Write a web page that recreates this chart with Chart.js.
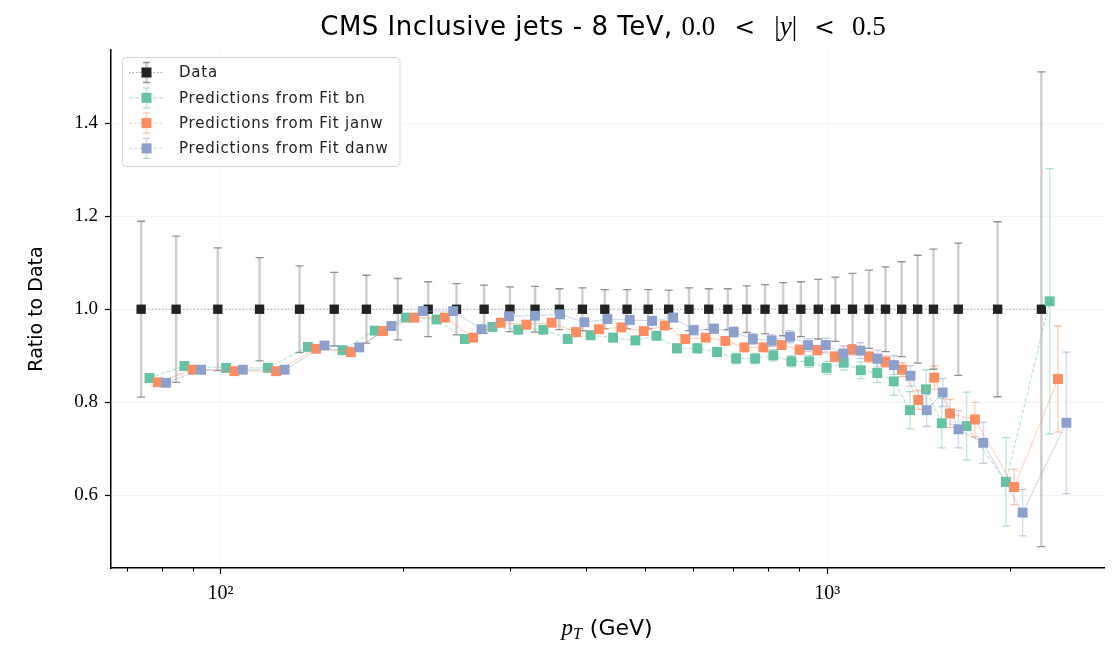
<!DOCTYPE html>
<html>
<head>
<meta charset="utf-8">
<title>CMS Inclusive jets - 8 TeV</title>
<script src="https://cdn.jsdelivr.net/npm/chart.js@4.4.1/dist/chart.umd.min.js"></script>
<style>
  html, body { margin: 0; padding: 0; background: #fff; }
  #wrap { position: relative; width: 1115px; height: 650px; }
</style>
</head>
<body>
<div id="wrap"><canvas id="ratioChart" width="1115" height="650"></canvas></div>
<script>
// === DATA ===
const pT = [74, 84.5, 99, 116, 135, 154, 174, 196, 220, 245, 272, 300, 330, 362, 395, 430, 468, 507, 548, 592,
  638, 686, 737, 790, 846, 905, 967, 1032, 1101, 1172, 1248, 1327, 1410, 1497, 1645, 1910, 2255];

const dataRatio = [1.0, 1.0, 1.0, 1.0, 1.0, 1.0, 1.0, 1.0, 1.0, 1.0, 1.0, 1.0, 1.0, 1.0, 1.0, 1.0, 1.0, 1.0, 1.0, 1.0,
  1.0, 1.0, 1.0, 1.0, 1.0, 1.0, 1.0, 1.0, 1.0, 1.0, 1.0, 1.0, 1.0, 1.0, 1.0, 1.0, 1.0];
const dataErr = [0.189, 0.157, 0.132, 0.111, 0.093, 0.079, 0.073, 0.066, 0.059, 0.055, 0.052, 0.048, 0.049, 0.044, 0.046, 0.042, 0.042, 0.042, 0.041, 0.046,
  0.044, 0.044, 0.050, 0.053, 0.057, 0.059, 0.064, 0.069, 0.077, 0.084, 0.091, 0.102, 0.116, 0.129, 0.142, 0.188, 0.510];

const fitBn = [0.852, 0.878, 0.874, 0.874, 0.919, 0.912, 0.954, 0.982, 0.978, 0.936, 0.962, 0.956, 0.956, 0.936, 0.944, 0.939, 0.933, 0.943, 0.916, 0.916,
  0.908, 0.894, 0.894, 0.901, 0.888, 0.888, 0.874, 0.885, 0.869, 0.863, 0.845, 0.783, 0.828, 0.755, 0.749, 0.629, 1.017];
const fitBnErr = [0.008, 0.007, 0.007, 0.007, 0.007, 0.007, 0.007, 0.007, 0.007, 0.007, 0.008, 0.008, 0.008, 0.008, 0.008, 0.009, 0.009, 0.009, 0.010, 0.010,
  0.010, 0.011, 0.011, 0.012, 0.012, 0.013, 0.014, 0.016, 0.018, 0.020, 0.030, 0.040, 0.042, 0.053, 0.073, 0.095, 0.285];

const fitJanw = [0.843, 0.870, 0.867, 0.867, 0.915, 0.908, 0.953, 0.982, 0.982, 0.939, 0.971, 0.967, 0.971, 0.951, 0.957, 0.961, 0.953, 0.965, 0.936, 0.939,
  0.932, 0.918, 0.918, 0.923, 0.913, 0.912, 0.898, 0.913, 0.898, 0.887, 0.870, 0.805, 0.853, 0.776, 0.763, 0.618, 0.850];
const fitJanwErr = [0.005, 0.005, 0.005, 0.005, 0.005, 0.005, 0.005, 0.005, 0.005, 0.005, 0.006, 0.006, 0.006, 0.006, 0.006, 0.006, 0.007, 0.007, 0.007, 0.008,
  0.008, 0.008, 0.009, 0.009, 0.010, 0.010, 0.011, 0.011, 0.012, 0.012, 0.015, 0.020, 0.025, 0.030, 0.037, 0.038, 0.114];

const fitDanw = [0.842, 0.870, 0.870, 0.870, 0.922, 0.918, 0.964, 0.996, 0.996, 0.957, 0.985, 0.986, 0.989, 0.972, 0.979, 0.977, 0.975, 0.982, 0.955, 0.958,
  0.951, 0.936, 0.933, 0.941, 0.923, 0.923, 0.905, 0.911, 0.894, 0.880, 0.857, 0.783, 0.821, 0.742, 0.713, 0.563, 0.756];
const fitDanwErr = [0.006, 0.006, 0.006, 0.006, 0.006, 0.006, 0.006, 0.006, 0.006, 0.007, 0.007, 0.007, 0.007, 0.008, 0.008, 0.008, 0.009, 0.009, 0.010, 0.010,
  0.011, 0.012, 0.012, 0.013, 0.014, 0.015, 0.016, 0.017, 0.018, 0.020, 0.022, 0.035, 0.030, 0.040, 0.044, 0.050, 0.152];

const seriesLabels = ["Data", "Predictions from Fit bn", "Predictions from Fit janw", "Predictions from Fit danw"];
const xTicks = [100, 1000];
const xTickLabels = ["10²", "10³"];
const xMinorTicks = [70, 80, 90, 200, 300, 400, 500, 600, 700, 800, 900, 2000];
const yTicks = [0.6, 0.8, 1.0, 1.2, 1.4];

// small multiplicative dodge so the four series sit side by side on the log axis
const xShift = [1, 1.032, 1.065, 1.0995];

// === STYLE ===
const SANS = "'DejaVu Sans', sans-serif";
const SERIF = "'Liberation Serif', 'DejaVu Serif', serif";
const colors = ["#222222", "#66c2a5", "#fc8d62", "#8da0cb"];
const lineColors = ["rgba(140,140,140,0.8)", "rgba(102,194,165,0.55)", "rgba(252,141,98,0.45)", "rgba(141,160,203,0.45)"];
const errColors = ["rgba(190,190,190,0.75)", "rgba(102,194,165,0.35)", "rgba(252,141,98,0.35)", "rgba(141,160,203,0.35)"];
const capColors = ["rgba(120,120,120,0.8)", "rgba(102,194,165,0.5)", "rgba(252,141,98,0.5)", "rgba(141,160,203,0.5)"];
const lineDashes = [[1.5, 2], [4, 2], [], []];

function makeSeries(k, values, errs) {
  return {
    label: seriesLabels[k],
    data: pT.map((v, i) => ({ x: v * xShift[k], y: values[i] })),
    yErr: errs,
    errColor: errColors[k],
    capColor: capColors[k],
    errWidth: k === 0 ? 2.5 : 1.5,
    borderColor: lineColors[k],
    borderWidth: 1,
    borderDash: lineDashes[k],
    backgroundColor: colors[k],
    pointBackgroundColor: colors[k],
    pointBorderWidth: 0,
    pointStyle: "rect",
    pointRadius: k === 0 ? 6.6 : 7,
    pointHoverRadius: k === 0 ? 6.6 : 7,
    tension: 0,
    order: 3 - k
  };
}

// === ERROR BARS (drawn just before each dataset's own markers) ===
const errorBarPlugin = {
  id: "errorBars",
  beforeDatasetDraw(chart, args) {
    const ds = chart.data.datasets[args.index];
    if (!ds.yErr) return;
    const ctx = chart.ctx, xs = chart.scales.x, ys = chart.scales.y;
    ctx.save();
    ds.data.forEach((p, i) => {
      const e = ds.yErr[i];
      const px = xs.getPixelForValue(p.x);
      const top = ys.getPixelForValue(p.y + e);
      const bot = ys.getPixelForValue(p.y - e);
      ctx.strokeStyle = ds.errColor;
      ctx.lineWidth = ds.errWidth;
      ctx.beginPath();
      ctx.moveTo(px, top);
      ctx.lineTo(px, bot);
      ctx.stroke();
      ctx.strokeStyle = ds.capColor;
      ctx.lineWidth = 1.3;
      ctx.beginPath();
      ctx.moveTo(px - 4, top); ctx.lineTo(px + 4, top);
      ctx.moveTo(px - 4, bot); ctx.lineTo(px + 4, bot);
      ctx.stroke();
    });
    ctx.restore();
  }
};

// === MINOR TICKS, TITLE, X LABEL, LEGEND ===
const decorPlugin = {
  id: "decor",
  afterDraw(chart) {
    const ctx = chart.ctx, xs = chart.scales.x, area = chart.chartArea;
    ctx.save();

    // minor ticks on the log axis
    ctx.strokeStyle = "#000";
    ctx.lineWidth = 1;
    ctx.beginPath();
    xMinorTicks.forEach(v => {
      const px = Math.round(xs.getPixelForValue(v)) + 0.5;
      ctx.moveTo(px, area.bottom);
      ctx.lineTo(px, area.bottom + 3.5);
    });
    ctx.stroke();

    // title with a math part
    const mathFont = "27px " + SERIF;
    const titleParts = [
      { t: "CMS Inclusive jets - 8 TeV, ", f: "26px " + SANS, ls: "0.5px" },
      { t: "0.0", f: mathFont }, { gap: 19 },
      { t: "<", f: "25px 'DejaVu Serif', serif" }, { gap: 19 },
      { t: "|", f: mathFont }, { t: "y", f: "italic " + mathFont }, { t: "|", f: mathFont }, { gap: 17 },
      { t: "<", f: "25px 'DejaVu Serif', serif" }, { gap: 17 },
      { t: "0.5", f: mathFont }
    ];
    drawParts(ctx, titleParts, 603, 35);

    // x axis label p_T (GeV)
    ctx.fillStyle = "#000";
    const pFont = "italic 23px " + SERIF, subFont = "italic 16px " + SERIF, gevFont = "22px " + SANS;
    ctx.font = pFont; const wp = ctx.measureText("p").width;
    ctx.font = subFont; const wt = ctx.measureText("T").width;
    ctx.font = gevFont; const wg = ctx.measureText(" (GeV)").width;
    let x0 = 607 - (wp + wt + 1 + wg) / 2;
    const base = 635;
    ctx.textBaseline = "alphabetic";
    ctx.textAlign = "left";
    ctx.font = pFont; ctx.fillText("p", x0, base); x0 += wp;
    ctx.font = subFont; ctx.fillText("T", x0, base + 4); x0 += wt + 1;
    ctx.font = gevFont; ctx.fillText(" (GeV)", x0, base);

    // legend
    const lx = 122.5, ly = 57.5, lw = 277.5, lh = 109;
    ctx.beginPath();
    ctx.roundRect(lx, ly, lw, lh, 4);
    ctx.fillStyle = "rgba(255,255,255,0.85)";
    ctx.fill();
    ctx.strokeStyle = "#d6d6d6";
    ctx.lineWidth = 1;
    ctx.stroke();
    chart.data.datasets.forEach((ds, k) => {
      const cy = 72.5 + k * 25.3, mx = 146.5;
      ctx.strokeStyle = ds.borderColor;
      ctx.lineWidth = 1;
      ctx.setLineDash(ds.borderDash.length ? ds.borderDash : [3, 2]);
      ctx.beginPath(); ctx.moveTo(129, cy); ctx.lineTo(164, cy); ctx.stroke();
      ctx.setLineDash([]);
      ctx.strokeStyle = ds.errColor;
      ctx.lineWidth = ds.errWidth;
      ctx.beginPath(); ctx.moveTo(mx, cy - 10); ctx.lineTo(mx, cy + 10); ctx.stroke();
      ctx.strokeStyle = ds.capColor;
      ctx.lineWidth = 1.3;
      ctx.beginPath();
      ctx.moveTo(mx - 3.5, cy - 10); ctx.lineTo(mx + 3.5, cy - 10);
      ctx.moveTo(mx - 3.5, cy + 10); ctx.lineTo(mx + 3.5, cy + 10);
      ctx.stroke();
      ctx.fillStyle = ds.pointBackgroundColor;
      ctx.fillRect(mx - 5, cy - 5, 10, 10);
      ctx.fillStyle = "#222";
      ctx.font = "15px " + SANS;
      ctx.letterSpacing = "0.8px";
      ctx.textBaseline = "middle";
      ctx.fillText(ds.label, 179, cy + 1);
      ctx.letterSpacing = "0px";
    });
    ctx.restore();
  }
};

function drawParts(ctx, parts, cx, baseline) {
  let total = 0;
  parts.forEach(p => {
    if (p.gap) { p.w = p.gap; }
    else { ctx.font = p.f; ctx.letterSpacing = p.ls || "0px"; p.w = ctx.measureText(p.t).width; }
    total += p.w;
  });
  let x = cx - total / 2;
  ctx.fillStyle = "#000";
  ctx.textAlign = "left";
  ctx.textBaseline = "alphabetic";
  parts.forEach(p => {
    if (!p.gap) { ctx.font = p.f; ctx.letterSpacing = p.ls || "0px"; ctx.fillText(p.t, x, baseline); }
    x += p.w;
  });
  ctx.letterSpacing = "0px";
}

// === CHART ===
const ctx = document.getElementById("ratioChart").getContext("2d");
new Chart(ctx, {
  type: "line",
  data: {
    datasets: [
      makeSeries(0, dataRatio, dataErr),
      makeSeries(1, fitBn, fitBnErr),
      makeSeries(2, fitJanw, fitJanwErr),
      makeSeries(3, fitDanw, fitDanwErr)
    ]
  },
  options: {
    responsive: false,
    animation: false,
    devicePixelRatio: 1,
    layout: { padding: { top: 50, right: 11, left: 0, bottom: 0 } },
    plugins: {
      legend: { display: false },
      tooltip: { enabled: false },
      title: { display: false }
    },
    scales: {
      x: {
        type: "logarithmic",
        min: 66,
        max: 2860,
        afterBuildTicks: scale => { scale.ticks = xTicks.map(v => ({ value: v })); },
        afterFit: scale => { scale.height = 82; },
        ticks: {
          autoSkip: false,
          maxRotation: 0,
          padding: 8,
          color: "#000",
          font: { family: SERIF, size: 20 },
          callback: v => xTickLabels[xTicks.indexOf(v)]
        },
        grid: { color: "rgba(0,0,0,0.04)", tickColor: "#000", tickLength: 6, tickWidth: 1.2 },
        border: { display: true, color: "#000", width: 1.5 }
      },
      y: {
        type: "linear",
        min: 0.444,
        max: 1.557,
        afterBuildTicks: scale => { scale.ticks = yTicks.map(v => ({ value: v })); },
        afterFit: scale => { scale.width = 111; },
        ticks: {
          padding: 7,
          color: "#000",
          font: { family: SERIF, size: 19 },
          callback: v => v.toFixed(1)
        },
        grid: { color: "rgba(0,0,0,0.04)", tickColor: "#000", tickLength: 6, tickWidth: 1.2 },
        border: { display: true, color: "#000", width: 1.5 },
        title: {
          display: true,
          text: "Ratio to Data",
          color: "#000",
          font: { family: SANS, size: 19 },
          padding: { top: 26, bottom: 0 }
        }
      }
    }
  },
  plugins: [errorBarPlugin, decorPlugin]
});
</script>
</body>
</html>
